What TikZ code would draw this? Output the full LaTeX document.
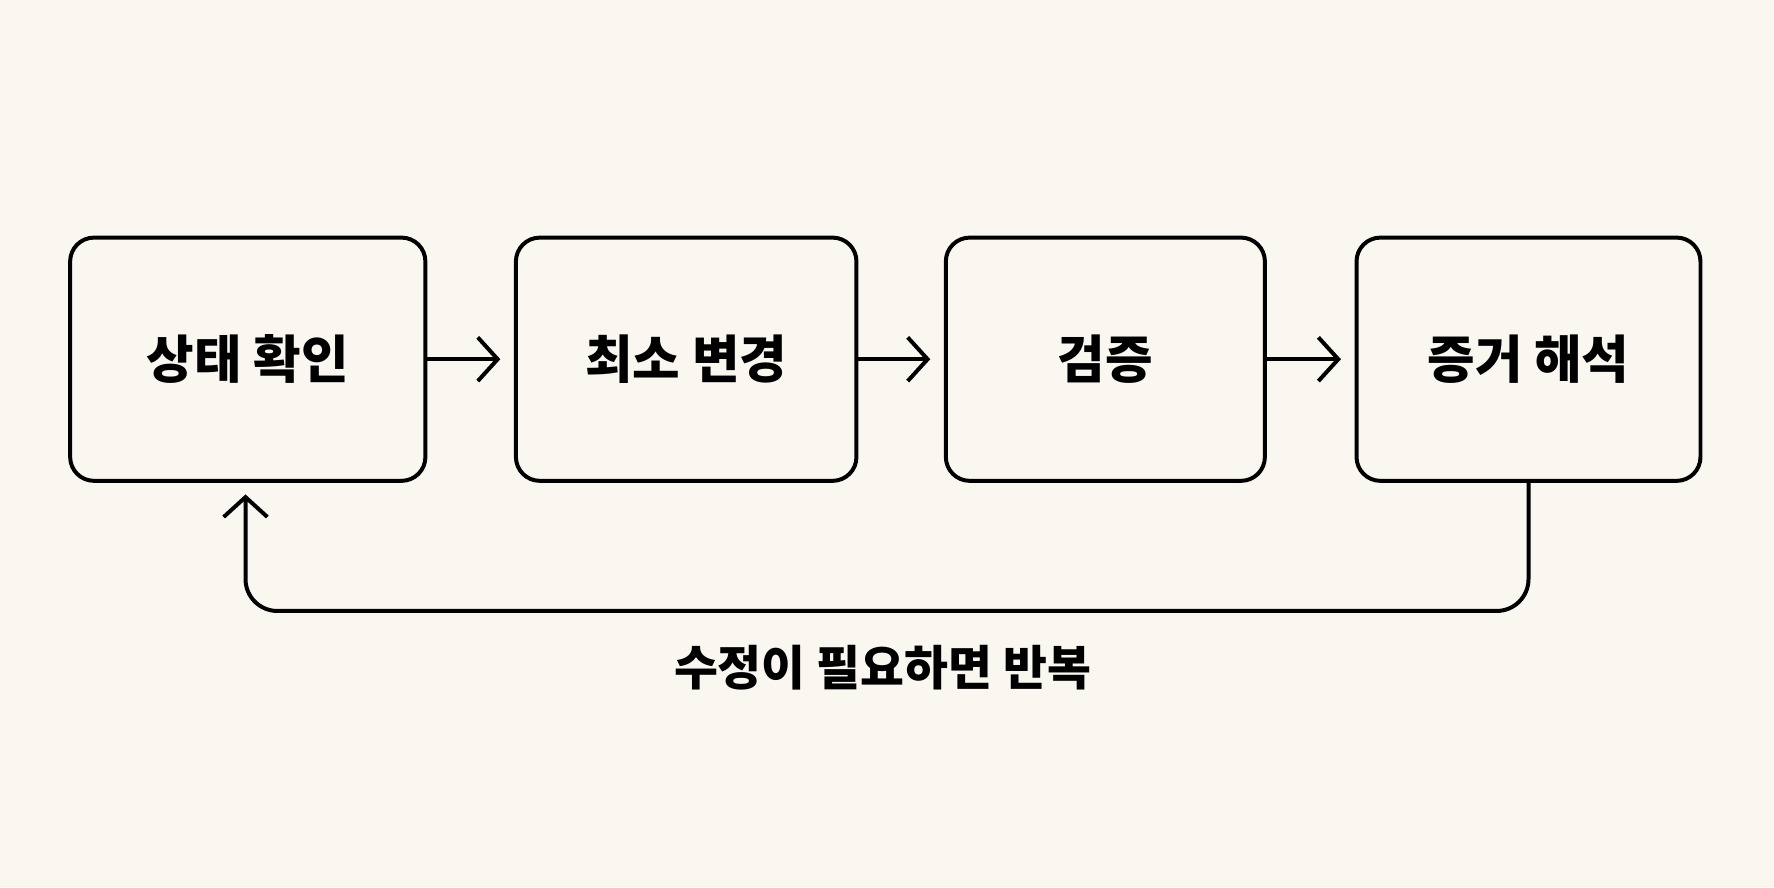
\documentclass[tikz,border=0pt]{standalone}
\usepackage{fontspec}
\setmainfont{Noto Sans CJK KR}
\usetikzlibrary{arrows.meta,positioning}
\definecolor{paper}{HTML}{FAF7F0}
\tikzset{
  stage/.style={draw, line width=1pt, rounded corners=6pt, minimum height=2.15cm,
    font=\bfseries\fontsize{13}{15}\selectfont},
  flow/.style={line width=1pt, -{Straight Barb[length=5pt,width=11pt]}}
}
\begin{document}
\begin{tikzpicture}
    %% background
    \fill[paper] (0,0) rectangle (15.68,7.84);
    \useasboundingbox (0,0) rectangle (15.68,7.84);
    %% stages
    \node[stage, minimum width=3.14cm] (check) at (2.19,4.665) {상태 확인};
    \node[stage, minimum width=3.01cm] (change) at (6.065,4.665) {최소 변경};
    \node[stage, minimum width=2.82cm] (verify) at (9.77,4.665) {검증};
    \node[stage, minimum width=3.04cm] (read) at (13.51,4.665) {증거 해석};
    %% arrows
    \draw[flow, shorten >=0.12cm] (check) -- (change);
    \draw[flow, shorten >=0.12cm] (change) -- (verify);
    \draw[flow, shorten >=0.12cm] (verify) -- (read);
    %% loop back
    \coordinate (turn) at (13.51,2.44);
    \coordinate (back) at (2.17,2.44);
    \coordinate (entry) at (2.17,3.59);
    \draw[flow, rounded corners=8pt, shorten >=0.12cm] (read.south) -- (turn) -- (back) -- (entry);
    \node[font=\bfseries\fontsize{12}{14}\selectfont] (again) at (7.8,1.94) {수정이 필요하면 반복};
\end{tikzpicture}
\end{document}
